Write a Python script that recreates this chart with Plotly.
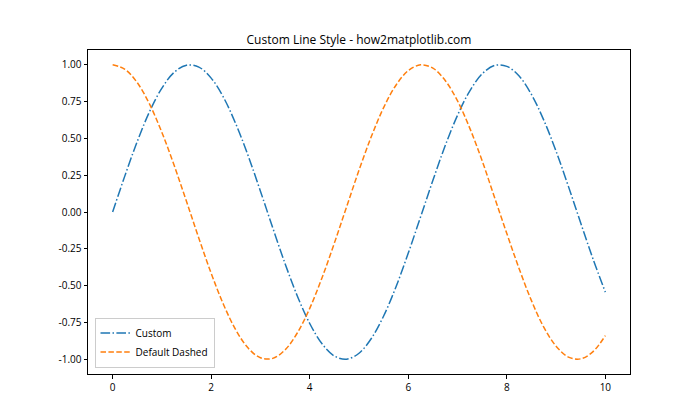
import plotly.graph_objects as go

x_vals = [0, 0.25, 0.5, 0.75, 1, 1.25, 1.5, 1.75, 2, 2.25, 2.5, 2.75, 3, 3.25, 3.5, 3.75,
          4, 4.25, 4.5, 4.75, 5, 5.25, 5.5, 5.75, 6, 6.25, 6.5, 6.75, 7, 7.25, 7.5, 7.75,
          8, 8.25, 8.5, 8.75, 9, 9.25, 9.5, 9.75, 10]
custom_vals = [0.0, 0.247, 0.479, 0.682, 0.841, 0.949, 0.997, 0.984, 0.909, 0.778, 0.598, 0.382,
               0.141, -0.108, -0.351, -0.572, -0.757, -0.895, -0.978, -0.999, -0.959, -0.859,
               -0.706, -0.509, -0.279, -0.033, 0.215, 0.451, 0.657, 0.823, 0.938, 0.995, 0.989,
               0.923, 0.798, 0.624, 0.412, 0.174, -0.075, -0.320, -0.544]
dashed_vals = [1.0, 0.969, 0.878, 0.732, 0.540, 0.315, 0.071, -0.178, -0.416, -0.628, -0.801,
               -0.924, -0.990, -0.994, -0.936, -0.820, -0.654, -0.446, -0.211, 0.037, 0.284,
               0.512, 0.709, 0.861, 0.960, 0.999, 0.977, 0.893, 0.754, 0.568, 0.347, 0.100,
               -0.146, -0.385, -0.602, -0.782, -0.911, -0.985, -0.997, -0.948, -0.839]
series_names = ["Custom", "Default Dashed"]
x_ticks = [0, 2, 4, 6, 8, 10]
y_ticks = [-1.0, -0.75, -0.5, -0.25, 0.0, 0.25, 0.5, 0.75, 1.0]
title_text = "Custom Line Style - how2matplotlib.com"

FONT = "Open Sans, Noto Sans, DejaVu Sans, sans-serif"

fig = go.Figure()
fig.add_trace(go.Scatter(x=x_vals, y=custom_vals, mode="lines", name=series_names[0],
                         line=dict(color="#1f77b4", width=1.5, dash="9.6px,2.4px,1.5px,2.4px",
                                   shape="spline")))
fig.add_trace(go.Scatter(x=x_vals, y=dashed_vals, mode="lines", name=series_names[1],
                         line=dict(color="#ff7f0e", width=1.5, dash="5.5px,2.4px",
                                   shape="spline")))

axis_common = dict(showgrid=False, zeroline=False, showline=True, linecolor="black",
                   linewidth=1, mirror=True, ticks="outside", ticklen=3.5, tickwidth=1,
                   tickcolor="black", tickfont=dict(family=FONT, size=10, color="black"))

fig.update_layout(
    width=700, height=420,
    margin=dict(l=87.5, r=70, t=50.4, b=46.2),
    paper_bgcolor="white", plot_bgcolor="white",
    title=dict(text=title_text, x=0.5, xref="paper", xanchor="center",
               y=1, yref="paper", yanchor="bottom", pad=dict(b=6),
               font=dict(family=FONT, size=12, color="black")),
    xaxis=dict(range=[-0.5, 10.5], tickvals=x_ticks,
               ticktext=[str(v) for v in x_ticks], **axis_common),
    yaxis=dict(range=[-1.1, 1.1], tickvals=y_ticks,
               ticktext=[f"{v:.2f}" for v in y_ticks], **axis_common),
    legend=dict(x=0.012, y=0.02, xanchor="left", yanchor="bottom",
                bgcolor="rgba(255,255,255,0.8)", bordercolor="#cccccc", borderwidth=1,
                font=dict(family=FONT, size=10, color="black"),
                tracegroupgap=0, itemwidth=30),
    showlegend=True,
)

fig.write_html("out.html")
